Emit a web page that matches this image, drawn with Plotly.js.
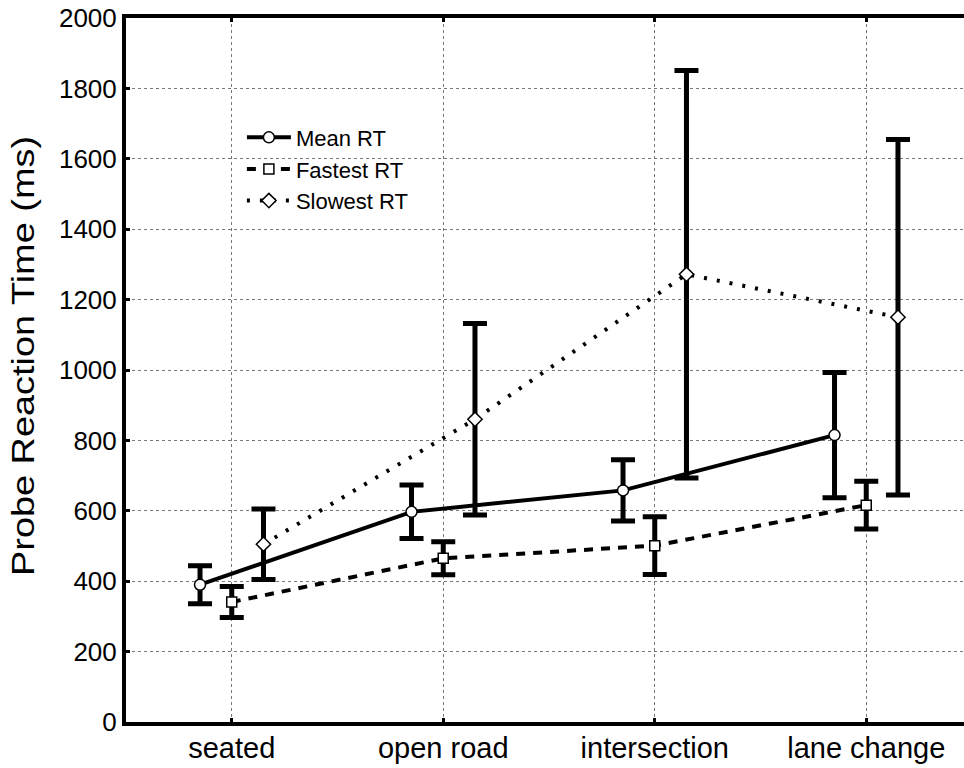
<!DOCTYPE html>
<html>
<head>
<meta charset="utf-8">
<script src="https://cdn.plot.ly/plotly-3.0.1.min.js"></script>
<style>html,body{margin:0;padding:0;overflow:hidden;background:#fff}#chart{width:972px;height:768px}</style>
</head>
<body>
<div id="chart"></div>
<script>
const categories = ["seated", "open road", "intersection", "lane change"];
const yTicks = [0, 200, 400, 600, 800, 1000, 1200, 1400, 1600, 1800, 2000];

const meanRT = [390, 597, 658, 815];
const meanErr = [54, 76, 87, 178];

const fastestRT = [341, 465, 501, 616];
const fastestErr = [44, 47, 82, 68];

const slowestRT = [505, 860, 1272, 1150];
const slowestErr = [100, 272, 579, 505];

const seriesNames = ["Mean RT", "Fastest RT", "Slowest RT"];

// horizontal offsets of each series within a category (styling)
const offsets = [-0.15, 0, 0.15];
const pos = (k) => categories.map((_, i) => i + offsets[k]);

const errStyle = (arr) => ({type: "data", array: arr, visible: true, color: "#000", thickness: 5, width: 12});

const traces = [
  {
    name: seriesNames[0], x: pos(0), y: meanRT, mode: "lines+markers", type: "scatter",
    line: {color: "#000", width: 4},
    marker: {symbol: "circle", size: 11, color: "#fff", line: {color: "#000", width: 1.5}},
    error_y: errStyle(meanErr)
  },
  {
    name: seriesNames[1], x: pos(1), y: fastestRT, mode: "lines+markers", type: "scatter",
    line: {color: "#000", width: 4, dash: "9px,8px"},
    marker: {symbol: "square", size: 10, color: "#fff", line: {color: "#000", width: 1.5}},
    error_y: errStyle(fastestErr)
  },
  {
    name: seriesNames[2], x: pos(2), y: slowestRT, mode: "lines+markers", type: "scatter",
    line: {color: "#000", width: 4, dash: "3px,10px"},
    marker: {symbol: "diamond", size: 11, color: "#fff", line: {color: "#000", width: 1.5}},
    error_y: errStyle(slowestErr)
  }
];

const font = "Liberation Sans, Arial, sans-serif";

const layout = {
  width: 972, height: 768,
  margin: {l: 126, r: 0, t: 18, b: 46},
  paper_bgcolor: "#fff", plot_bgcolor: "#fff",
  showlegend: true,
  legend: {
    x: 0.137, y: 0.86, xanchor: "left", yanchor: "top",
    bgcolor: "rgba(255,255,255,0)", borderwidth: 0,
    font: {family: font, size: 22, color: "#000"},
    tracegroupgap: 0, itemwidth: 44
  },
  xaxis: {
    range: [-0.5, 3.5],
    tickvals: categories.map((_, i) => i),
    ticktext: categories,
    tickfont: {family: font, size: 29, color: "#000"},
    ticklabelstandoff: -3,
    showgrid: true, gridcolor: "#777", griddash: "dot", gridwidth: 1,
    showline: true, linecolor: "#000", linewidth: 4, mirror: "ticks",
    ticks: "inside", ticklen: 4, tickwidth: 3, tickcolor: "#000",
    zeroline: false, fixedrange: true
  },
  yaxis: {
    range: [0, 2000],
    tickvals: yTicks,
    tickfont: {family: font, size: 26, color: "#000"},
    title: {text: "Probe Reaction Time (ms)", font: {family: font, size: 31, color: "#000"}, standoff: 16},
    showgrid: true, gridcolor: "#777", griddash: "dot", gridwidth: 1,
    showline: true, linecolor: "#000", linewidth: 4,
    ticks: "inside", ticklen: 4, tickwidth: 3, tickcolor: "#000",
    zeroline: false, fixedrange: true
  }
};

Plotly.newPlot("chart", traces, layout, {displayModeBar: false, staticPlot: true}).then(function (gd) {
  // the reference's axis title is drawn in a condensed face: stretch it to the same length
  const t = gd.querySelector(".g-ytitle text");
  if (t) {
    t.setAttribute("textLength", "440");
    t.setAttribute("lengthAdjust", "spacingAndGlyphs");
    const g = gd.querySelector(".g-ytitle");
    g.setAttribute("transform", "translate(0,-14)");
  }
});
</script>
</body>
</html>
